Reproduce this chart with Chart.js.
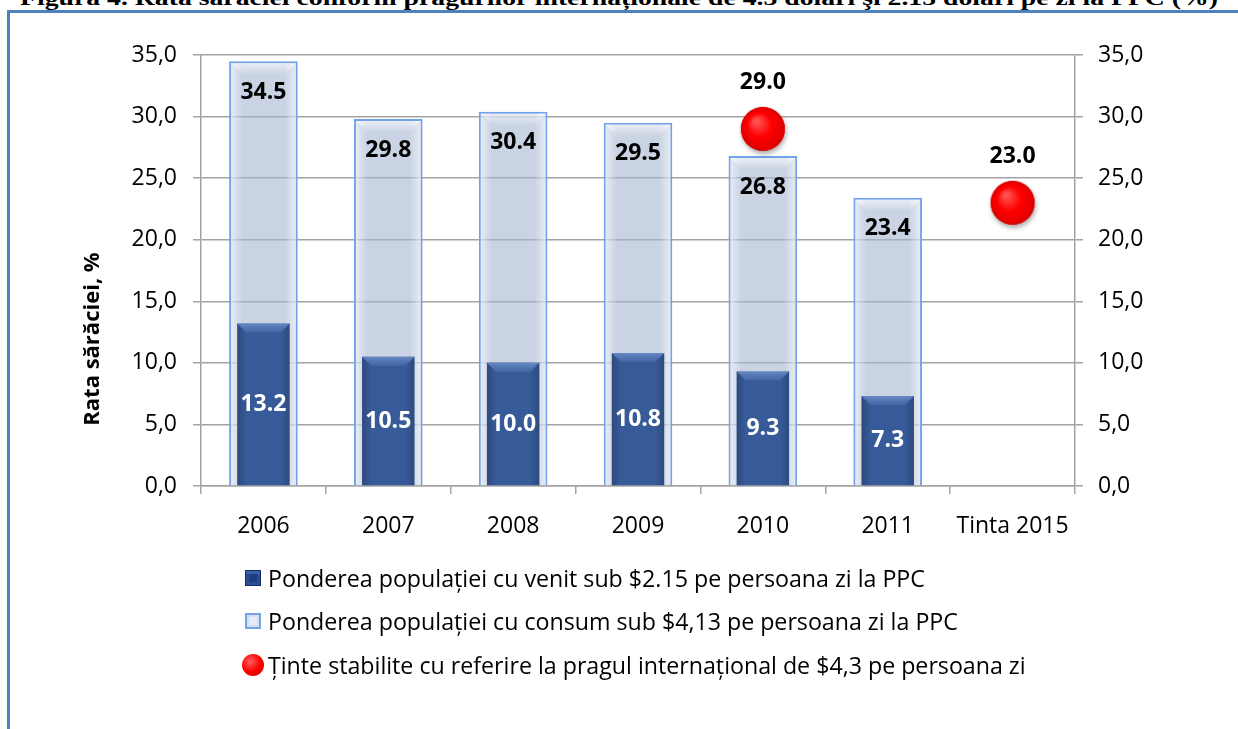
<!DOCTYPE html>
<html><head><meta charset="utf-8">
<script src="https://cdn.jsdelivr.net/npm/chart.js@4.4.0/dist/chart.umd.min.js"></script>
<style>
html,body{margin:0;padding:0;background:#fff;width:1238px;height:729px;overflow:hidden;}
#wrap{position:relative;width:1238px;height:729px;}
#frame{position:absolute;left:7px;top:10px;width:1240px;height:730px;border-top:3px solid #4F81BD;border-left:3px solid #4F81BD;box-sizing:border-box;}
#c{position:absolute;left:0;top:0;}
#title{position:absolute;left:0;top:-20px;}
#ytitle{position:absolute;left:90px;top:339px;width:300px;height:30px;margin-left:-150px;margin-top:-15px;transform:rotate(-90deg);text-align:center;font-family:'Open Sans',sans-serif;font-weight:bold;font-size:22px;line-height:30px;color:#000;white-space:nowrap;}
.leg{position:absolute;left:268px;height:28px;font-family:'Open Sans',sans-serif;font-size:23.2px;line-height:28px;color:#000;white-space:nowrap;}
.ico{position:absolute;box-sizing:border-box;}
</style></head>
<body><div id="wrap">
<svg id="title" width="1238" height="30"><text id="tt" x="20" y="24.5" textLength="1198" lengthAdjust="spacingAndGlyphs" font-family="Liberation Serif" font-weight="bold" font-size="22" fill="#000"></text></svg>
<div id="frame"></div>
<canvas id="c" width="1238" height="729"></canvas>
<div id="ytitle"></div>
<div id="legend"></div>
</div>
<script>
const titleText = 'Figura 4. Rata sărăciei conform pragurilor internaționale de 4.3 dolari şi 2.15 dolari pe zi la PPC (%)';
const categories = ['2006','2007','2008','2009','2010','2011','Tinta 2015'];
const venitSub215 = [13.2,10.5,10.0,10.8,9.3,7.3,null];
const consumSub413 = [34.5,29.8,30.4,29.5,26.8,23.4,null];
const tinte = [null,null,null,null,29.0,null,23.0];
const yTickValues = [0,5,10,15,20,25,30,35];
const seriesLabels = [
  'Ponderea populației cu venit sub $2.15 pe persoana zi la PPC',
  'Ponderea populației cu consum sub $4,13 pe persoana zi la PPC',
  'Ținte stabilite cu referire la pragul internațional de $4,3 pe persoana zi'
];
const yTitle = 'Rata sărăciei, %';

document.getElementById('tt').textContent = titleText;
document.getElementById('ytitle').textContent = yTitle;

const FONT = 'Open Sans';
const GRID = '#a3a3a3';

// red 3D marker image
function makeMarker(r){
  const s = Math.ceil(r*2+14);
  const cv = document.createElement('canvas');
  cv.width = s; cv.height = s;
  const g = cv.getContext('2d');
  const cx = s/2, cy = s/2;
  g.save();
  g.shadowColor = 'rgba(0,0,0,0.35)';
  g.shadowBlur = 5; g.shadowOffsetX = 1; g.shadowOffsetY = 3;
  g.beginPath(); g.arc(cx,cy,r,0,Math.PI*2); g.fillStyle='#f00'; g.fill();
  g.restore();
  const rg = g.createRadialGradient(cx-r*0.3, cy-r*0.35, r*0.1, cx, cy, r);
  rg.addColorStop(0,'#ff5050'); rg.addColorStop(0.5,'#ff0000'); rg.addColorStop(0.9,'#e60000'); rg.addColorStop(1,'#cc0000');
  g.beginPath(); g.arc(cx,cy,r,0,Math.PI*2); g.fillStyle=rg; g.fill();
  return cv;
}
const marker = makeMarker(22);

const fmt = v => Number(v).toFixed(1).replace('.', ',');

const PAD = {left:72, right:60, top:55, bottom:185};
const W = 1238, H = 729;
const plotLeft = 201, plotRight = 1075, plotBottom = 486;

// bevel look on bars, drawn over the library's bar elements
const bevelPlugin = {
  id: 'bevel',
  afterDatasetDraw(chart, args){
    const i = args.index;
    if (i > 1) return;
    const ctx = chart.ctx;
    const meta = args.meta;
    ctx.save();
    meta.data.forEach((el, j) => {
      if (chart.data.datasets[i].data[j] == null) return;
      const {x, y, base, width} = el.getProps(['x','y','base','width'], true);
      const b = i === 1 ? 2 : 0;
      const l = x - width/2 + b, r = x + width/2 - b, t = y + b, bt = base;
      const e = i === 1 ? 11 : 9;
      let g = ctx.createLinearGradient(l, 0, l + e, 0);
      if (i === 1) { g.addColorStop(0,'rgba(255,255,255,0.55)'); g.addColorStop(1,'rgba(255,255,255,0)'); }
      else { g.addColorStop(0,'rgba(0,0,0,0.18)'); g.addColorStop(1,'rgba(0,0,0,0)'); }
      ctx.fillStyle = g; ctx.fillRect(l, t, e, bt - t);
      g = ctx.createLinearGradient(r, 0, r - e, 0);
      if (i === 1) { g.addColorStop(0,'rgba(255,255,255,0.55)'); g.addColorStop(1,'rgba(255,255,255,0)'); }
      else { g.addColorStop(0,'rgba(0,0,0,0.18)'); g.addColorStop(1,'rgba(0,0,0,0)'); }
      ctx.fillStyle = g; ctx.fillRect(r - e, t, e, bt - t);
      g = ctx.createLinearGradient(0, t, 0, t + e);
      if (i === 1) { g.addColorStop(0,'rgba(255,255,255,0.6)'); g.addColorStop(1,'rgba(255,255,255,0.05)'); }
      else { g.addColorStop(0,'rgba(120,155,215,0.75)'); g.addColorStop(1,'rgba(90,125,190,0.35)'); }
      ctx.fillStyle = g;
      ctx.beginPath();
      ctx.moveTo(l, t); ctx.lineTo(r, t); ctx.lineTo(r - e, t + e); ctx.lineTo(l + e, t + e); ctx.closePath();
      ctx.fill();
    });
    ctx.restore();
  }
};

const labelPlugin = {
  id: 'vals',
  afterDatasetsDraw(chart){
    const ctx = chart.ctx;
    ctx.save();
    ctx.font = 'bold 23px "' + FONT + '"';
    ctx.textAlign = 'center';
    ctx.textBaseline = 'middle';
    chart.data.datasets.forEach((ds, i) => {
      const meta = chart.getDatasetMeta(i);
      meta.data.forEach((el, j) => {
        const v = ds.data[j];
        if (v == null) return;
        let y;
        if (i === 0) { ctx.fillStyle = '#fff'; y = (el.y + el.base) / 2; }
        else if (i === 1) { ctx.fillStyle = '#000'; y = el.y + 31; }
        else { ctx.fillStyle = '#000'; y = el.y - 46; }
        ctx.fillText(v.toFixed(1), el.x, y);
      });
    });
    ctx.restore();
  }
};

const tickFont = {family: FONT, size: 23};

new Chart(document.getElementById('c'), {
  data: {
    labels: categories,
    datasets: [
      {type:'bar', label: seriesLabels[0], data: venitSub215, backgroundColor:'#375A98', borderWidth:0,
       grouped:false, barPercentage:0.42, categoryPercentage:1, order:1},
      {type:'bar', label: seriesLabels[1], data: consumSub413, backgroundColor:'rgba(165,182,208,0.6)',
       borderColor:'#72A2EA', borderWidth:2, grouped:false, barPercentage:0.55, categoryPercentage:1, order:2},
      {type:'line', label: seriesLabels[2], data: tinte, showLine:false, pointStyle: marker, pointRadius:22,
       pointHoverRadius:22, order:0}
    ]
  },
  options: {
    responsive:false, animation:false,
    layout:{padding: PAD},
    plugins:{legend:{display:false}, tooltip:{enabled:false}},
    scales:{
      x:{
        type:'category',
        grid:{display:true, drawOnChartArea:false, offset:true, tickLength:8, color:GRID, lineWidth:1.5},
        border:{color:GRID, width:1.5},
        ticks:{color:'#000', font:tickFont, padding:19, maxRotation:0, autoSkip:false},
        afterFit: s => { s.height = H - PAD.bottom - plotBottom; }
      },
      y:{
        position:'left', min:0, max:35,
        afterBuildTicks: s => { s.ticks = yTickValues.map(v => ({value:v})); },
        ticks:{color:'#000', font:tickFont, padding:16, callback: fmt},
        grid:{color:GRID, lineWidth:1.5, tickLength:8},
        border:{color:GRID, width:1.5},
        afterFit: s => { s.width = plotLeft - PAD.left; }
      },
      y2:{
        position:'right', min:0, max:35,
        afterBuildTicks: s => { s.ticks = yTickValues.map(v => ({value:v})); },
        ticks:{color:'#000', font:tickFont, padding:15, callback: fmt},
        grid:{drawOnChartArea:false, color:GRID, lineWidth:1.5, tickLength:8},
        border:{color:GRID, width:1.5},
        afterFit: s => { s.width = W - plotRight - PAD.right; }
      }
    }
  },
  plugins:[bevelPlugin, labelPlugin]
});

// legend
const leg = document.getElementById('legend');
const legY = [578, 621, 665];
const icons = [
  '<span class="ico" style="left:245px;top:TOPpx;width:16px;height:16px;background:#1f3c7a;border:1px solid #142c62;box-shadow:inset 0 3px 0 0 #3a5ea8, inset 0 0 0 3px #2a4c92;"></span>',
  '<span class="ico" style="left:245px;top:TOPpx;width:16px;height:16px;background:#e6ecf5;border:2px solid #74A3E8;box-shadow:inset 0 0 0 2px #d3def0;"></span>',
  '<span class="ico" style="left:242px;top:TOPpx;width:22px;height:22px;border-radius:50%;background:radial-gradient(circle at 38% 35%,#ff6060 0%,#ff0000 50%,#d00000 100%);"></span>'
];
let html = '';
seriesLabels.forEach((t, i) => {
  const sz = i === 2 ? 22 : 16;
  html += icons[i].replace('TOP', legY[i] - sz/2);
  html += '<div class="leg" style="top:' + (legY[i] - 14) + 'px">' + t + '</div>';
});
leg.innerHTML = html;
</script>
</body></html>
